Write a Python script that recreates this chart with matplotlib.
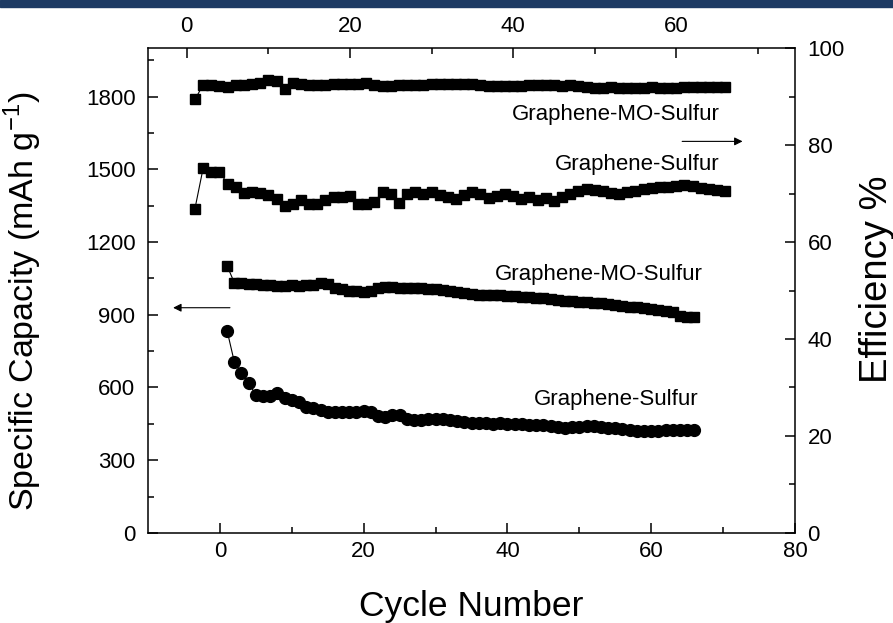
import matplotlib
matplotlib.use("Agg")
import matplotlib.pyplot as plt
from matplotlib.patches import Rectangle
from matplotlib import font_manager

plt.rcParams['font.family'] = ['Liberation Sans', 'DejaVu Sans']

# fuente estrecha para los rótulos de los ejes, si existe
nombres = {f.name for f in font_manager.fontManager.ttflist}
fuente_ticks = 'Liberation Sans Narrow' if 'Liberation Sans Narrow' in nombres else 'Liberation Sans'

# ciclos (eje inferior para capacidad, eje superior para eficiencia)
ciclos = list(range(1, 67))

cap_mo = [1102, 1033, 1030, 1028, 1025, 1024, 1022, 1018, 1020, 1022,
          1020, 1024, 1022, 1030, 1026, 1012, 1008, 1000, 996, 995,
          998, 1012, 1015, 1014, 1012, 1010, 1010, 1011, 1008, 1006,
          1003, 996, 992, 988, 986, 983, 982, 980, 980, 978,
          976, 974, 972, 970, 968, 966, 962, 958, 956, 954,
          952, 950, 947, 944, 940, 937, 934, 930, 926, 922,
          918, 914, 910, 896, 892, 892]

cap_gs = [835, 707, 659, 618, 570, 565, 565, 576, 556, 549,
          542, 521, 514, 507, 500, 500, 498, 497, 500, 505,
          497, 482, 480, 487, 486, 468, 466, 467, 472, 472,
          468, 466, 462, 458, 455, 455, 452, 450, 452, 450,
          450, 448, 446, 447, 446, 440, 436, 435, 436, 438,
          440, 440, 438, 435, 432, 428, 424, 422, 420, 420,
          422, 424, 424, 425, 424, 424]

ef_mo = [89.4, 92.4, 92.4, 92.2, 92.0, 92.3, 92.4, 92.6, 92.8, 93.4,
         93.2, 91.6, 92.8, 92.6, 92.4, 92.3, 92.4, 92.5, 92.5, 92.6,
         92.6, 92.8, 92.4, 92.2, 92.2, 92.3, 92.3, 92.4, 92.4, 92.5,
         92.6, 92.6, 92.5, 92.6, 92.5, 92.4, 92.2, 92.1, 92.2, 92.2,
         92.1, 92.3, 92.3, 92.4, 92.3, 92.2, 92.3, 92.2, 92.0, 91.8,
         91.8, 91.9, 91.8, 91.7, 91.8, 91.8, 91.9, 91.8, 91.7, 91.8,
         92.0, 92.0, 91.9, 92.0, 92.0, 91.9]

ef_gs = [66.9, 75.2, 74.5, 74.5, 72.0, 71.4, 70.2, 70.3, 70.2, 69.7,
         68.8, 67.4, 67.9, 68.6, 67.8, 67.8, 68.6, 69.3, 69.3, 69.4,
         67.8, 67.9, 68.3, 70.3, 70.0, 68.1, 69.9, 70.3, 69.9, 70.3,
         69.7, 69.2, 68.9, 69.6, 70.3, 69.8, 69.0, 69.4, 70.0, 69.5,
         68.8, 69.2, 68.6, 69.0, 68.5, 69.3, 70.0, 70.6, 71.0, 70.8,
         70.6, 70.2, 69.8, 70.3, 70.6, 70.9, 71.1, 71.3, 71.4, 71.6,
         71.8, 71.6, 71.2, 70.9, 70.7, 70.6]

fig = plt.figure(figsize=(8.93, 6.23), dpi=100)
pos = [0.1657, 0.1445, 0.7246, 0.7784]

# barra azul superior
fig.patches.append(Rectangle((0, 0.989), 1, 0.011, transform=fig.transFigure,
                             color='#1d3a63', zorder=0))

# ejes de capacidad (inferior / izquierdo)
ax = fig.add_axes(pos)
ax.plot(ciclos, cap_mo, color='black', lw=0.8, marker='s', ms=7.8, mec='black')
ax.plot(ciclos, cap_gs, color='black', lw=0.8, marker='o', ms=8.5, mec='black')
ax.set_xlim(-10, 80)
ax.set_ylim(0, 2000)
ax.set_xticks([0, 20, 40, 60, 80])
ax.set_xticks([10, 30, 50, 70], minor=True)
ax.set_yticks(range(0, 1801, 300))
ax.set_yticks(range(150, 2000, 300), minor=True)
ax.set_xlabel('Cycle Number', fontsize=25.5, labelpad=20)
ax.set_ylabel('Specific Capacity (mAh g$^{\\mathregular{-1}}$)', fontsize=24.5, labelpad=30)
ax.yaxis.label.set_y(0.478)
ax.tick_params(which='both', direction='in', labelsize=16, width=1.1)
ax.tick_params(which='major', length=7)
ax.tick_params(which='minor', length=4)
ax.tick_params(axis='y', pad=9)
ax.tick_params(axis='x', pad=6)
for s in ax.spines.values():
    s.set_linewidth(1.1)

# ejes de eficiencia (superior / derecho)
ax_e = fig.add_axes(pos, frameon=False)
ax_e.plot(ciclos, ef_mo, color='black', lw=0.8, marker='s', ms=7.8, mec='black')
ax_e.plot(ciclos, ef_gs, color='black', lw=0.8, marker='s', ms=7.8, mec='black')
ax_e.set_xlim(-4.76, 74.56)
ax_e.set_ylim(0, 100)
ax_e.xaxis.tick_top()
ax_e.yaxis.tick_right()
ax_e.yaxis.set_label_position('right')
ax_e.set_xticks([0, 20, 40, 60])
ax_e.set_xticks([10, 30, 50, 70], minor=True)
ax_e.set_yticks(range(0, 101, 20))
ax_e.set_yticks(range(10, 100, 20), minor=True)
ax_e.set_ylabel('Efficiency %', fontsize=27.5, labelpad=10)
ax_e.yaxis.label.set_y(0.524)
ax_e.tick_params(which='both', direction='in', labelsize=16, width=1.1)
ax_e.tick_params(which='major', length=7)
ax_e.tick_params(which='minor', length=4)
ax_e.tick_params(axis='y', pad=9)
ax_e.tick_params(axis='x', pad=8)

for eje in (ax, ax_e):
    for lab in eje.get_xticklabels() + eje.get_yticklabels():
        lab.set_family([fuente_ticks, 'DejaVu Sans'])

# etiquetas y flechas
ax.text(69.5, 1725, 'Graphene-MO-Sulfur', ha='right', va='center', fontsize=16)
ax.text(69.5, 1519, 'Graphene-Sulfur', ha='right', va='center', fontsize=16)
ax.text(67.2, 1065, 'Graphene-MO-Sulfur', ha='right', va='center', fontsize=16)
ax.text(66.6, 549, 'Graphene-Sulfur', ha='right', va='center', fontsize=16)
ax.annotate('', xy=(72.7, 1615), xytext=(64.3, 1615),
            arrowprops=dict(arrowstyle='-|>', color='black', lw=0.8,
                            mutation_scale=12, shrinkA=0, shrinkB=0))
ax.annotate('', xy=(-6.5, 929), xytext=(1.4, 929),
            arrowprops=dict(arrowstyle='-|>', color='black', lw=0.8,
                            mutation_scale=12, shrinkA=0, shrinkB=0))

fig.savefig('out.png', dpi=100)
